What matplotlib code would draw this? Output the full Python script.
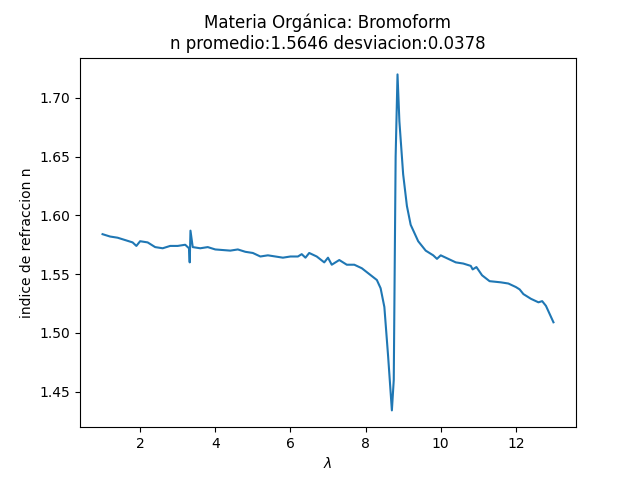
import matplotlib
matplotlib.use('Agg')
import matplotlib.pyplot as plt

# valores
lam = [1.0, 1.2, 1.4, 1.6, 1.8, 1.9, 2.0, 2.2, 2.4, 2.6, 2.8, 3.0, 3.2, 3.3, 3.32, 3.34,
       3.4, 3.6, 3.8, 4.0, 4.4, 4.6, 4.8, 5.0, 5.2, 5.4, 5.6, 5.8, 6.0, 6.2, 6.3, 6.4,
       6.5, 6.7, 6.9, 7.0, 7.1, 7.3, 7.5, 7.7, 7.9, 8.1, 8.3, 8.4, 8.5, 8.6, 8.7, 8.75,
       8.8, 8.85, 8.9, 9.0, 9.1, 9.2, 9.4, 9.6, 9.8, 9.9, 10.0, 10.2, 10.4, 10.6, 10.8,
       10.85, 10.95, 11.1, 11.3, 11.6, 11.8, 12.0, 12.1, 12.2, 12.4, 12.6, 12.7, 12.8, 13.0]
n = [1.584, 1.582, 1.581, 1.579, 1.577, 1.574, 1.578, 1.577, 1.573, 1.572, 1.574, 1.574,
     1.575, 1.572, 1.560, 1.587, 1.573, 1.572, 1.573, 1.571, 1.570, 1.571, 1.569, 1.568,
     1.565, 1.566, 1.565, 1.564, 1.565, 1.565, 1.567, 1.564, 1.568, 1.565, 1.560, 1.564,
     1.558, 1.562, 1.558, 1.558, 1.555, 1.550, 1.545, 1.538, 1.522, 1.480, 1.434, 1.460,
     1.650, 1.720, 1.680, 1.635, 1.608, 1.592, 1.578, 1.570, 1.566, 1.563, 1.566, 1.563,
     1.560, 1.559, 1.557, 1.554, 1.556, 1.549, 1.544, 1.543, 1.542, 1.539, 1.537, 1.533,
     1.529, 1.526, 1.527, 1.523, 1.509]

fig, ax = plt.subplots(figsize=(6.4, 4.8), dpi=100)
ax.plot(lam, n)
ax.set_title("Materia Orgánica: Bromoform\nn promedio:1.5646 desviacion:0.0378")
ax.set_xlabel(r"$\lambda$")
ax.set_ylabel("indice de refraccion n")
fig.savefig("out.png")
